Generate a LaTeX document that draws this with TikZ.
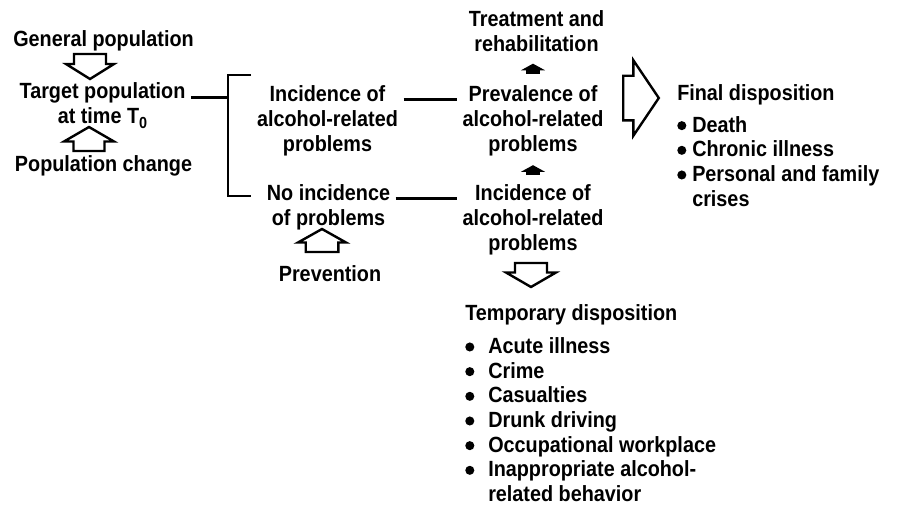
\documentclass[tikz,border=0pt]{standalone}
\usepackage{fontspec}
\setmainfont{Liberation Sans}[FakeStretch=0.9]
\usepackage{tikz}
\usetikzlibrary{arrows.meta,positioning,calc}

\newcommand{\bul}[1]{\makebox[#1][l]{\tikz[baseline=-0.55ex]\fill (0,0) circle[radius=3.4pt];}}

\tikzset{
  pics/blockarr/.style args={#1/#2/#3/#4}{code={
    \draw[hollow] ({-#1/2},{-#2}) -- ({#1/2-#4},{-#2}) -- ({#1/2-#4},{-#3})
      -- ({#1/2},0) -- ({#1/2-#4},{#3}) -- ({#1/2-#4},{#2}) -- ({-#1/2},{#2}) -- cycle;
  }}
}

\begin{document}
\begin{tikzpicture}[
  x=0.75pt, y=-0.75pt,
  font=\fontsize{16.5}{18.5}\selectfont\bfseries,
  >=Latex,
  txt/.style={align=center, anchor=north, inner xsep=4pt, inner ysep=0pt},
  lst/.style={align=left, anchor=north west, inner sep=0pt},
  hollow/.style={line width=1.8pt, line join=miter, fill=white},
  conn/.style={line width=2.2pt},
  headup/.style={line width=11pt, -{Triangle[width=18pt,length=5pt]}}
]
  \useasboundingbox (0,0) rectangle (897,507);

  \node[txt] (gen)    at (103.5,30.5) {General population};
  \node[txt] (target) at (102.5,82.5) {Target population\\at time T\raisebox{-0.45ex}{\fontsize{12}{12}\selectfont 0}};
  \node[txt] (popch)  at (103.5,155.5) {Population change};

  \pic[rotate=-90] (a1) at (90,66.5) {blockarr=25/16/24/15};
  \pic[rotate=90]  (a2) at (89,139) {blockarr=24/15.5/25/14.5};

  \node[txt] (inc1)    at (327.5,85.5) {Incidence of\\alcohol-related\\problems};
  \node[txt] (noinc)   at (328.5,184.5) {No incidence\\of problems};
  \pic[rotate=90] (a3) at (322,240.5) {blockarr=23/16.3/24/13.5};
  \node[txt] (prevent) at (330,265.5) {Prevention};

  \node[txt] (treat) at (536.5,10.5) {Treatment and\\rehabilitation};
  \node[txt] (prev)  at (533,85.5) {Prevalence of\\alcohol-related\\problems};
  \node[txt] (inc2)  at (533,184.5) {Incidence of\\alcohol-related\\problems};
  \pic[rotate=-90] (a4) at (531,275) {blockarr=24/16/25/14.5};

  \pic (a5) at (641,98) {blockarr=35.6/22.3/37.8/25.5};

  \node[lst] (final) at (677,84.5) {%
    Final disposition\\[5pt]
    \bul{11.25pt}Death\\
    \bul{11.25pt}Chronic illness\\
    \bul{11.25pt}Personal and family\\
    \hspace*{11.25pt}crises};
  \node[lst] (temp) at (465,304.5) {%
    Temporary disposition\\[6pt]
    \bul{17.25pt}Acute illness\\
    \bul{17.25pt}Crime\\
    \bul{17.25pt}Casualties\\
    \bul{17.25pt}Drunk driving\\
    \bul{17.25pt}Occupational workplace\\
    \bul{17.25pt}Inappropriate alcohol-\\
    \hspace*{17.25pt}related behavior};

  \coordinate (brk) at (228,98);
  \coordinate (brkT) at (251,75);
  \coordinate (brkB) at (251,196);
  \draw[conn] ([yshift=-11.5pt]target.north east) -- ([yshift=-11.5pt]target.north east -| brk);
  \draw[conn] (brkT) -| (brk) |- (brkB);

  \foreach \a/\b in {inc1/prev, noinc/inc2}
    \draw[conn] ([yshift=-10.5pt]\a.north east) -- ([yshift=-10.5pt]\a.north east -| \b.west);

  \foreach \a/\b in {prev/treat, inc2/prev}
    \draw[headup] ($($(\a.north)!0.5!(\a.north |- \b.south)$)+(0,5)$) -- ++(0,-10);
\end{tikzpicture}
\end{document}
